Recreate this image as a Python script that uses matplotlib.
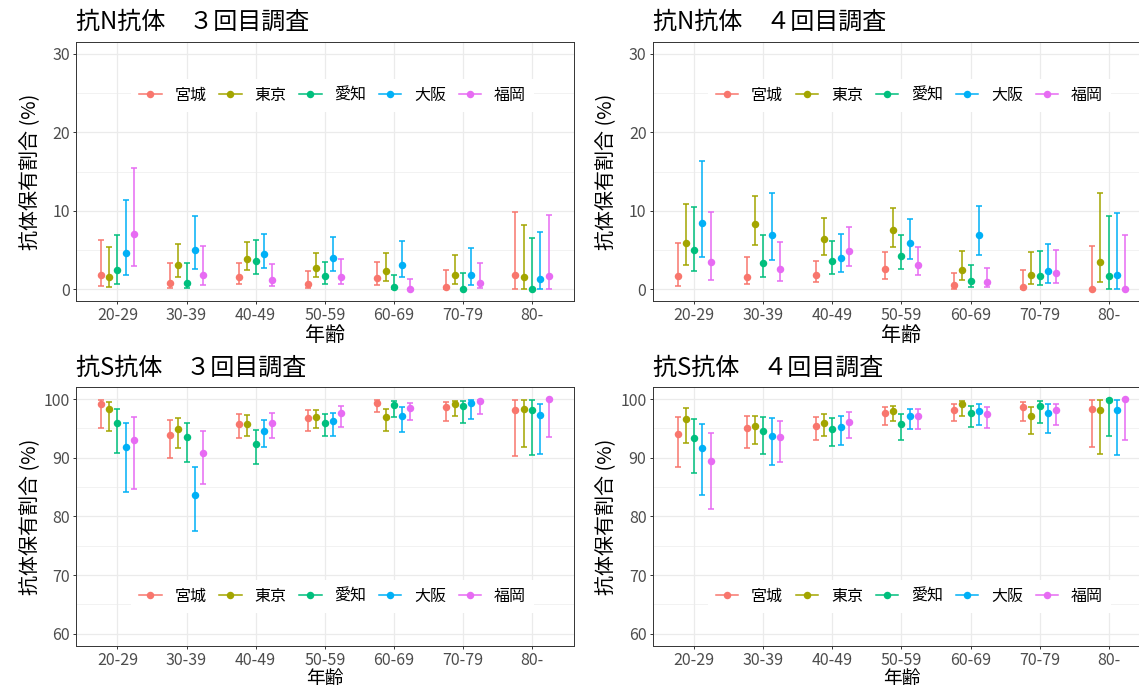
import matplotlib
matplotlib.use("Agg")
import matplotlib.pyplot as plt
from matplotlib.lines import Line2D
import numpy as np

plt.rcParams['font.family'] = ['Noto Sans CJK JP', 'DejaVu Sans']

ages = ["20-29", "30-39", "40-49", "50-59", "60-69", "70-79", "80-"]
prefs = ["宮城", "東京", "愛知", "大阪", "福岡"]
colors = ["#F8766D", "#A3A500", "#00BF7D", "#00B0F6", "#E76BF3"]

titles = ["抗N抗体　３回目調査", "抗N抗体　４回目調査", "抗S抗体　３回目調査", "抗S抗体　４回目調査"]
xlabel = "年齢"
ylabel = "抗体保有割合 (%)"

# ---- 抗N抗体 3回目 ----
n3_est = [[1.8, 0.85, 1.5, 0.7, 1.45, 0.3, 1.8],
          [1.5, 3.06, 3.83, 2.72, 2.34, 1.87, 1.5],
          [2.43, 0.85, 3.62, 1.66, 0.3, 0.0, 0.0],
          [4.6, 5.02, 4.43, 3.96, 3.1, 1.79, 1.28],
          [7.02, 1.87, 1.23, 1.57, 0.0, 0.85, 1.7]]
n3_lo = [[0.43, 0.17, 0.64, 0.21, 0.55, 0.0, 0.0],
         [0.3, 1.57, 2.43, 1.62, 1.1, 0.72, 0.0],
         [0.72, 0.17, 2.0, 0.72, 0.0, 0.0, 0.0],
         [1.79, 2.64, 2.72, 2.38, 1.57, 0.51, 0.0],
         [2.98, 0.6, 0.38, 0.64, 0.0, 0.17, 0.0]]
n3_hi = [[6.3, 3.3, 3.3, 2.3, 3.45, 2.4, 9.8],
         [5.4, 5.8, 6.0, 4.64, 4.64, 4.38, 8.2],
         [6.85, 3.32, 6.3, 3.49, 1.87, 2.04, 6.47],
         [11.36, 9.36, 7.1, 6.64, 6.13, 5.23, 7.23],
         [15.45, 5.49, 3.23, 3.87, 1.32, 3.28, 9.4]]

# ---- 抗N抗体 4回目 ----
n4_est = [[1.66, 1.62, 1.87, 2.55, 0.51, 0.34, 0.0],
          [5.87, 8.26, 6.34, 7.49, 2.51, 1.83, 3.53],
          [4.98, 3.4, 3.57, 4.26, 1.06, 1.66, 1.7],
          [8.43, 6.85, 3.96, 5.91, 6.85, 2.26, 1.79],
          [3.49, 2.64, 4.85, 3.15, 0.89, 2.13, 0.0]]
n4_lo = [[0.43, 0.64, 0.9, 1.36, 0.04, 0.0, 0.0],
         [3.06, 5.6, 4.38, 5.36, 1.19, 0.68, 0.94],
         [2.26, 1.62, 2.0, 2.55, 0.34, 0.51, 0.0],
         [4.13, 3.74, 2.17, 3.91, 4.34, 0.81, 0.0],
         [1.19, 1.1, 2.9, 1.79, 0.26, 0.85, 0.0]]
n4_hi = [[5.87, 4.13, 3.66, 4.68, 2.09, 2.43, 5.57],
         [10.85, 11.9, 9.1, 10.3, 4.89, 4.68, 12.2],
         [10.5, 6.85, 6.2, 6.9, 3.15, 4.85, 9.3],
         [16.4, 12.2, 6.98, 8.94, 10.6, 5.7, 9.66],
         [9.9, 6.04, 7.96, 5.4, 2.68, 4.94, 6.9]]

# ---- 抗S抗体 3回目 ----
s3_est = [[99.1, 93.9, 95.8, 96.8, 99.4, 98.6, 98.2],
          [98.4, 94.9, 95.8, 97.0, 97.0, 99.2, 98.4],
          [96.0, 93.5, 92.3, 96.0, 99.0, 98.8, 98.2],
          [91.9, 83.7, 94.6, 96.2, 97.2, 99.4, 97.3],
          [93.0, 90.9, 96.0, 97.6, 98.5, 99.6, 100.0]]
s3_lo = [[95.1, 89.9, 93.4, 94.5, 97.8, 96.2, 90.3],
         [94.5, 91.6, 93.7, 95.1, 94.6, 97.2, 91.8],
         [90.9, 89.3, 89.0, 93.7, 96.9, 95.9, 90.4],
         [84.2, 77.6, 91.9, 93.7, 94.4, 96.6, 90.7],
         [84.6, 85.5, 93.3, 95.3, 96.4, 97.4, 93.6]]
s3_hi = [[99.9, 96.4, 97.4, 98.1, 99.8, 99.5, 99.9],
         [99.5, 96.8, 97.3, 98.1, 98.3, 99.7, 99.9],
         [98.3, 96.0, 94.7, 97.5, 99.6, 99.6, 99.9],
         [95.9, 88.4, 96.5, 97.7, 98.6, 99.9, 99.2],
         [96.9, 94.5, 97.7, 98.8, 99.4, 99.9, 100.0]]

# ---- 抗S抗体 4回目 ----
s4_est = [[94.1, 95.1, 95.5, 97.7, 98.2, 98.7, 98.4],
          [96.6, 95.4, 96.0, 97.9, 99.2, 97.2, 98.2],
          [93.4, 94.6, 94.9, 95.8, 97.7, 98.8, 99.9],
          [91.6, 93.8, 95.3, 97.2, 98.0, 97.7, 98.2],
          [89.4, 93.6, 96.1, 97.1, 97.5, 98.2, 100.0]]
s4_lo = [[88.4, 91.7, 93.1, 95.6, 96.3, 96.2, 91.8],
         [92.6, 92.4, 93.7, 96.2, 97.2, 94.0, 90.6],
         [87.4, 90.7, 92.0, 93.1, 95.2, 96.0, 93.7],
         [83.7, 88.8, 92.2, 94.9, 95.6, 94.2, 90.4],
         [81.2, 89.3, 93.4, 94.9, 95.1, 95.6, 93.1]]
s4_hi = [[97.0, 97.1, 97.0, 98.7, 99.1, 99.5, 99.8],
         [98.5, 97.2, 97.5, 98.9, 99.7, 98.6, 99.8],
         [96.6, 96.9, 96.8, 97.4, 98.9, 99.6, 100.0],
         [95.8, 96.7, 97.2, 98.4, 99.1, 99.1, 99.8],
         [94.3, 96.3, 97.8, 98.3, 98.7, 99.2, 100.0]]

panels = [(n3_est, n3_lo, n3_hi), (n4_est, n4_lo, n4_hi),
          (s3_est, s3_lo, s3_hi), (s4_est, s4_lo, s4_hi)]

W, H = 1139, 689
fig = plt.figure(figsize=(W / 100, H / 100), dpi=100)

def px_rect(x0, y0, x1, y1):
    return [x0 / W, 1 - y1 / H, (x1 - x0) / W, (y1 - y0) / H]

BOT = 645.5
rects = [px_rect(76, 42, 573.5, 301), px_rect(652.7, 42, 1150.2, 301),
         px_rect(76, 387.4, 573.5, BOT), px_rect(652.7, 387.4, 1150.2, BOT)]

grid_c = "#EBEBEB"
dodge = 0.12

for k, (rect, (est, lo, hi)) in enumerate(zip(rects, panels)):
    ax = fig.add_axes(rect)
    is_n = k < 2
    x = np.arange(1, len(ages) + 1)
    for i, (p, c) in enumerate(zip(prefs, colors)):
        e = np.array(est[i]); l = np.array(lo[i]); h = np.array(hi[i])
        xi = x + (i - 2) * dodge
        ax.errorbar(xi, e, yerr=[e - l, h - e], fmt='none', ecolor=c,
                    elinewidth=1.1, capsize=2.5, capthick=1.1, zorder=3,
                    clip_on=False)
        ax.plot(xi, e, 'o', color=c, ms=5.4, mew=0, zorder=4, clip_on=False)
    ax.set_xlim(0.4, 7.6)
    ax.set_xticks(x)
    ax.set_xticklabels(ages)
    if is_n:
        ax.set_ylim(-1.5, 31.5)
        ax.set_yticks([0, 10, 20, 30])
        ax.set_yticks([5, 15, 25], minor=True)
    else:
        ax.set_ylim(58, 102)
        ax.set_yticks([60, 70, 80, 90, 100])
        ax.set_yticks([65, 75, 85, 95], minor=True)
    ax.grid(True, which='major', color=grid_c, lw=0.9, zorder=0)
    ax.grid(True, which='minor', axis='y', color=grid_c, lw=0.45, zorder=0)
    ax.set_axisbelow(True)
    ax.tick_params(axis='both', which='major', length=2.5, width=0.7,
                   color="#333333", labelsize=11.5, labelcolor="#4D4D4D", pad=2.0)
    ax.tick_params(axis='y', which='minor', length=0)
    for s in ax.spines.values():
        s.set_color("#333333")
        s.set_linewidth(0.7)
    if is_n:
        ax.set_xlabel(xlabel, fontsize=14.4, va='center')
        ax.xaxis.set_label_coords(0.5, -0.133)
    else:
        ax.set_xlabel(xlabel, fontsize=13.5, va='bottom')
        ax.xaxis.set_label_coords(0.5, (BOT - 688.8) / (BOT - 387.4))
    ax.set_ylabel(ylabel, fontsize=14.4, va='center')
    ax.yaxis.set_label_coords(-0.092, 0.5)
    ph = 259 if is_n else (BOT - 387.4)
    ax.text(0.0, 1.0 + (20 / ph), titles[k], transform=ax.transAxes,
            fontsize=17.3, ha='left', va='center', color='black')
    handles = [Line2D([0], [0], color=c, lw=1.1, marker='o', ms=5.4, mew=0)
               for c in colors]
    leg = ax.legend(handles, prefs, loc='center',
                    bbox_to_anchor=(0.516, 0.795 if is_n else 0.19),
                    ncol=5, frameon=True, fontsize=11.5, handlelength=1.4,
                    handletextpad=0.8, columnspacing=0.8, borderpad=0.5,
                    fancybox=False)
    leg.get_frame().set_facecolor('white')
    leg.get_frame().set_edgecolor('none')
    leg.get_frame().set_alpha(1)
    leg.set_zorder(5)

fig.savefig("out.png", dpi=100)
